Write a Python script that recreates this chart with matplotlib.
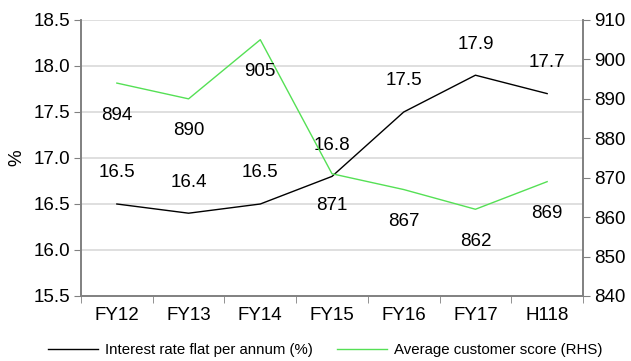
import matplotlib
matplotlib.use("Agg")
import matplotlib.pyplot as plt
import numpy as np

plt.rcParams['font.family'] = ['Liberation Sans', 'DejaVu Sans']

categories = ["FY12", "FY13", "FY14", "FY15", "FY16", "FY17", "H118"]
interest_rate = [16.5, 16.4, 16.5, 16.8, 17.5, 17.9, 17.7]
customer_score = [894, 890, 905, 871, 867, 862, 869]
left_ticks = [15.5, 16.0, 16.5, 17.0, 17.5, 18.0, 18.5]
right_ticks = [840, 850, 860, 870, 880, 890, 900, 910]

fig = plt.figure(figsize=(6.31, 3.61), dpi=100)
ax = fig.add_axes([81/631, 1 - 296/361, (583-81)/631, (296-20)/361])
ax2 = ax.twinx()

x = np.arange(len(categories))
spine_c = "#808080"
fs = 13.5

ax.set_xlim(-0.5, len(categories) - 0.5)
ax.set_ylim(15.5, 18.5)
ax2.set_ylim(840, 910)
ax.set_yticks(left_ticks)
ax.set_yticklabels([f"{v:.1f}" for v in left_ticks], fontsize=fs)
ax2.set_yticks(right_ticks)
ax2.set_yticklabels([str(v) for v in right_ticks], fontsize=fs)
ax.set_xticks(x)
ax.set_xticklabels(categories, fontsize=fs)
ax.tick_params(axis='x', length=0, pad=8)
ax.set_xticks(np.arange(-0.5, len(categories), 1), minor=True)
ax.tick_params(axis='x', which='minor', length=5, color=spine_c, direction='out')
ax.tick_params(axis='y', length=5, color=spine_c, pad=3)
ax2.tick_params(axis='y', length=5, color=spine_c, pad=3)

for a in (ax, ax2):
    a.spines['top'].set_visible(False)
    for s in ('left', 'right', 'bottom'):
        a.spines[s].set_color(spine_c)
        a.spines[s].set_linewidth(1.2)

for v in left_ticks[1:]:
    ax.axhline(v, color="#d9d9d9", linewidth=1.2, zorder=0)

ax.set_ylabel("%", fontsize=fs, labelpad=6)

l1, = ax.plot(x, interest_rate, color="black", linewidth=1, label="Interest rate flat per annum (%)")
l2, = ax2.plot(x, customer_score, color="#55e055", linewidth=1, label="Average customer score (RHS)")

for xi, v in zip(x, interest_rate):
    ax.annotate(f"{v:.1f}", (xi, v), xytext=(0, 31), textcoords="offset pixels",
                ha="center", va="center", fontsize=fs)
for xi, v in zip(x, customer_score):
    ax2.annotate(f"{v}", (xi, v), xytext=(0, -32), textcoords="offset pixels",
                 ha="center", va="center", fontsize=fs)

fig.legend(handles=[l1, l2], loc="center", bbox_to_anchor=(0.5 + 10/631, 1 - 350/361),
           ncol=2, frameon=False, fontsize=10.8, handlelength=3.3, columnspacing=1.6,
           handletextpad=0.5)

fig.savefig("out.png", dpi=100)
